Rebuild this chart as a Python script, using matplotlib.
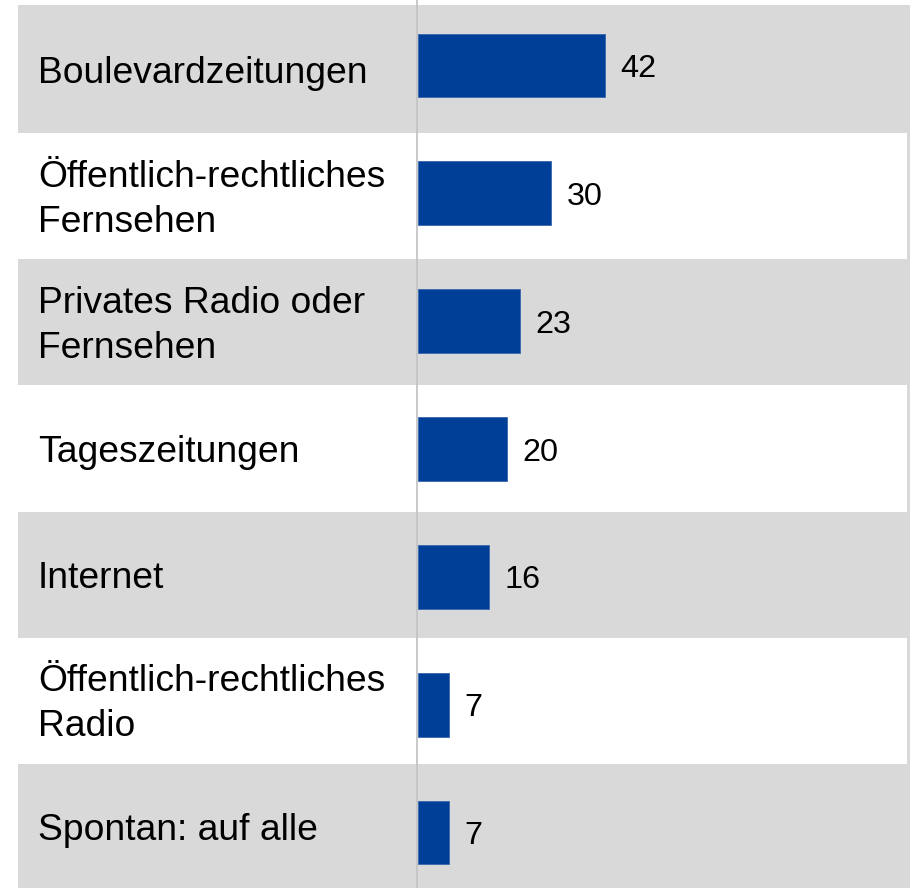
import matplotlib
matplotlib.use("Agg")
import matplotlib.pyplot as plt
import matplotlib.transforms as mtransforms
import numpy as np

categories = ["Boulevardzeitungen", "Öffentlich-rechtliches\nFernsehen",
              "Privates Radio oder\nFernsehen", "Tageszeitungen", "Internet",
              "Öffentlich-rechtliches\nRadio", "Spontan: auf alle"]
values = [42, 30, 23, 20, 16, 7, 7]

plt.rcParams['font.family'] = ['Liberation Sans', 'DejaVu Sans']

W, H = 910, 888
PX2PT = 72 / 100
fig = plt.figure(figsize=(W/100, H/100), dpi=100)

x_left_px, x_zero_px, x_right_px = 18, 417.5, 910
ppu = 4.46  # pixels per value unit
n = len(categories)

# --- background table rows ---
axr = fig.add_axes([x_left_px/W, 0, (x_right_px - x_left_px)/W, 1])
row_px, row_top = 126.2, 6.8
axr.set_ylim((H - row_top)/row_px - 0.5, -0.5 - row_top/row_px)
axr.set_xlim(0, 1)
axr.axis('off')
top_edge = -0.5 - 1.8/row_px
axr.axhspan(top_edge, n, color='#d9d9d9', lw=0, zorder=0)
white_xmax = (907 - x_left_px)/(x_right_px - x_left_px)
for i in range(n):
    if i % 2 == 1:
        axr.axhspan(i - 0.5, i + 0.5, xmin=0, xmax=white_xmax, color='white', lw=0, zorder=1)

# category labels (cap centre on row centre, 45 px line pitch)
cap_px, pitch_px = 26, 45
lab_tr = mtransforms.blended_transform_factory(axr.transAxes, axr.transData)
lab_x = (38 - x_left_px)/(x_right_px - x_left_px)
for i, c in enumerate(categories):
    lines = c.split('\n')
    k = len(lines)
    for j, line in enumerate(lines):
        dy = cap_px/2 + (j - (k - 1)/2) * pitch_px
        axr.annotate(line, (lab_x, i), xycoords=lab_tr, xytext=(0, -dy*PX2PT),
                     textcoords='offset points', va='baseline', ha='left',
                     fontsize=26.8, color='black', zorder=3)

# --- bars ---
axb = fig.add_axes([x_left_px/W, 0, (x_right_px - x_left_px)/W, 1])
axb.patch.set_alpha(0)
bar_pitch, bar_c0 = 127.9, 65.3
axb.set_ylim((H - bar_c0)/bar_pitch, -bar_c0/bar_pitch)
axb.set_xlim(-(x_zero_px - x_left_px)/ppu, (x_right_px - x_zero_px)/ppu)
axb.axis('off')
y = np.arange(n)
axb.axvline(-0.15, color='#c4c4c4', lw=1.3, zorder=1)
axb.barh(y, values, height=0.497, color='#003f98', edgecolor='#3a66ad', linewidth=0.6, zorder=2)
for i, v in enumerate(values):
    axb.annotate(str(v), (v, i), xytext=(11.0, -11.5*PX2PT), textcoords='offset points',
                 va='baseline', ha='left', fontsize=23.3, color='black')

fig.savefig('out.png', dpi=100)
